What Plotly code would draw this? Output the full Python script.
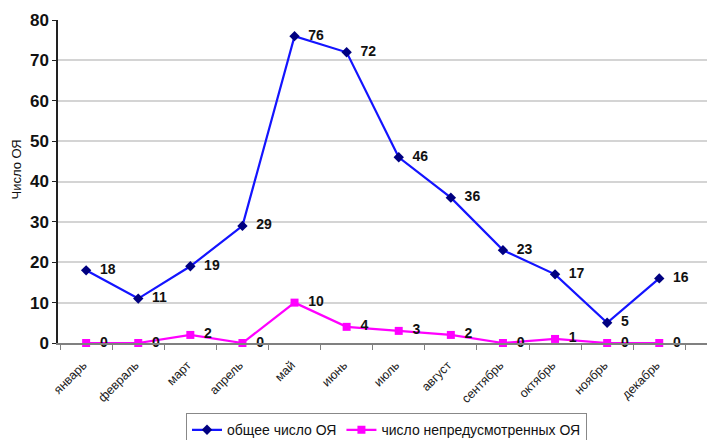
import plotly.graph_objects as go

months = ["январь", "февраль", "март", "апрель", "май", "июнь",
          "июль", "август", "сентябрь", "октябрь", "ноябрь", "декабрь"]
total_oya = [18, 11, 19, 29, 76, 72, 46, 36, 23, 17, 5, 16]
unforeseen_oya = [0, 0, 2, 0, 10, 4, 3, 2, 0, 1, 0, 0]

FONT = "Liberation Sans, Arial, sans-serif"

fig = go.Figure()

fig.add_trace(go.Scatter(
    x=months, y=total_oya,
    name="общее число ОЯ",
    mode="lines+markers+text",
    line=dict(color="#1414ff", width=2.2),
    marker=dict(symbol="diamond", size=8, color="#000080"),
    text=[f"  {v}" for v in total_oya],
    textposition="middle right",
    textfont=dict(family=FONT, size=14, color="#111111", weight="bold"),
    cliponaxis=False,
))

fig.add_trace(go.Scatter(
    x=months, y=unforeseen_oya,
    name="число непредусмотренных ОЯ",
    mode="lines+markers+text",
    line=dict(color="#ff00ff", width=2.2),
    marker=dict(symbol="square", size=8, color="#ff00ff"),
    text=[f"  {v}" for v in unforeseen_oya],
    textposition="middle right",
    textfont=dict(family=FONT, size=14, color="#111111", weight="bold"),
    cliponaxis=False,
))

fig.update_xaxes(
    type="category",
    range=[-0.54, 12.07],
    tickangle=-45,
    tickfont=dict(family=FONT, size=12.5, color="#222222"),
    ticklabelstandoff=8, ticklabelshift=-3,
    showgrid=False,
    showline=True, linecolor="#808080", linewidth=2,
    ticks="outside", tickson="boundaries", ticklen=5, tickcolor="#808080",
    zeroline=False,
    automargin=False,
)

fig.update_yaxes(
    range=[0, 80],
    dtick=10,
    tickfont=dict(family=FONT, size=17, color="#111111", weight="bold"),
    showgrid=True, gridcolor="#d4d4d4", gridwidth=1.5,
    showline=True, linecolor="#222222", linewidth=1.5,
    ticks="outside", ticklen=4, tickcolor="#222222",
    zeroline=False,
    automargin=False,
)

fig.add_annotation(
    text="Число ОЯ", textangle=-90,
    xref="paper", yref="paper", x=-0.063, y=0.536,
    xanchor="center", yanchor="middle",
    showarrow=False,
    font=dict(family=FONT, size=13, color="#111111"),
)

# the page body adds an 8px margin, so the figure is 8px smaller each way
fig.update_layout(
    width=707, height=432,
    margin=dict(l=50, r=0, t=12, b=97, autoexpand=False),
    plot_bgcolor="white", paper_bgcolor="white",
    font=dict(family=FONT),
    showlegend=True,
    legend=dict(
        orientation="h", x=0.5, xanchor="center",
        yref="container", y=0.062, yanchor="top",
        font=dict(family=FONT, size=14, color="#111111"),
        bordercolor="#888888", borderwidth=1,
        itemwidth=30,
    ),
)

fig.write_html("out.html")
